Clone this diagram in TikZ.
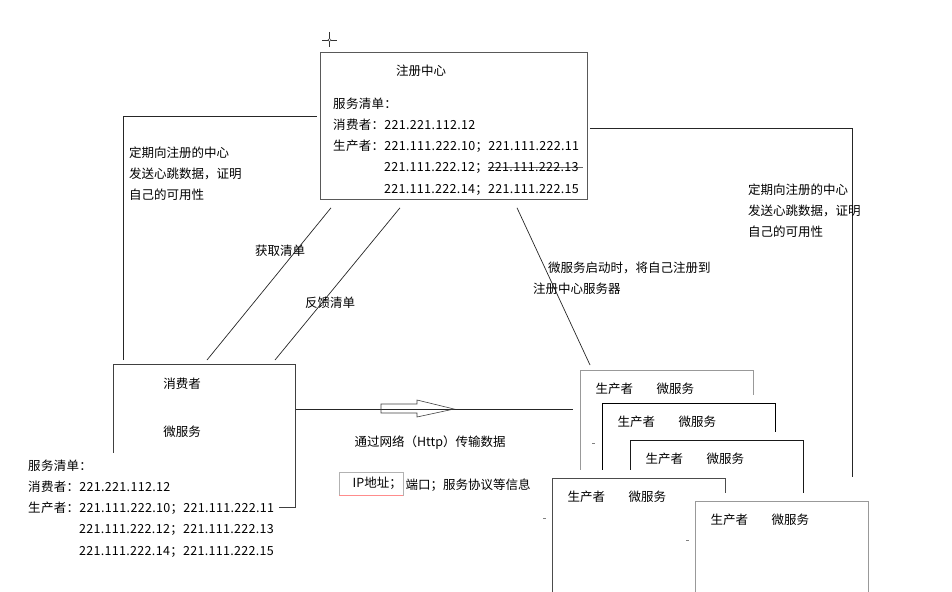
\documentclass[tikz,border=0pt]{standalone}
\usepackage{fontspec}
\setmainfont{Noto Sans CJK SC}
\newfontfamily\listfamily{Noto Sans CJK SC}[LetterSpace=2.5]
\usetikzlibrary{calc,positioning}

\newcommand{\diagfont}{\fontsize{12.5}{21.2}\selectfont}
\newcommand{\strikeip}[1]{\leavevmode\setbox0\hbox{#1}\rlap{\color{black!60}\rule[0.33em]{\dimexpr\wd0+4pt\relax}{0.7pt}}\box0}

\begin{document}
\begin{tikzpicture}[x=1pt,y=-1pt,
box/.style={draw=black!70, line width=0.8pt, inner sep=0pt, anchor=north west},
pbox/.style={box, fill=white, minimum width=173, minimum height=150,
  preaction={draw=white, line width=16pt}},
txt/.style={font=\diagfont, inner sep=0pt, align=left},
iplist/.style={txt, font=\diagfont\listfamily, anchor=north west},
link/.style={line width=0.7pt, black!85},
dashmark/.style={line width=0.6pt, black!50}
]
\useasboundingbox (0,0) rectangle (952,591);
\clip (0,0) rectangle (952,591);

% registry
\node[box, draw=black!65, minimum width=267, minimum height=147] (reg) at (320,52) {};
\node[txt] (regtitle) at (421,71) {注册中心};
\node[iplist] (reglist) at (333,97.5) {服务清单：\\消费者：221.221.112.12\\生产者：221.111.222.10；221.111.222.11\\\hphantom{生产者：}221.111.222.12；\strikeip{221.111.222.13}\\\hphantom{生产者：}221.111.222.14；221.111.222.15};

% consumer
\node[box, draw=black!75, minimum width=182, minimum height=143] (cons) at (113,364) {};
\node[txt] (constitle) at (182,384) {消费者};
\node[txt] (conssvc) at (182,432) {微服务};
\node[iplist, fill=white, inner xsep=5pt, inner ysep=6.5pt] (conslist) at (23,453) {服务清单：\\消费者：221.221.112.12\\生产者：221.111.222.10；221.111.222.11\\\hphantom{生产者：}221.111.222.12；221.111.222.13\\\hphantom{生产者：}221.111.222.14；221.111.222.15};

% producers
\node[pbox, draw=black!40] (p1) at (580,370) {};
\node[txt, anchor=west] (p1t) at ($(p1.north west)+(15.5,19)$) {生产者\hspace{23.5pt}微服务};
\node[pbox, draw=black] (p2) at (602,403) {};
\node[txt, anchor=west] (p2t) at ($(p2.north west)+(15.5,19)$) {生产者\hspace{23.5pt}微服务};
\draw[dashmark] ($(p2.north west)+(-10,40)$) -- ++(3,0);
\node[pbox, draw=black!90] (p3) at (630,440) {};
\node[txt, anchor=west] (p3t) at ($(p3.north west)+(15.5,19)$) {生产者\hspace{23.5pt}微服务};
\node[pbox, draw=black!70] (p4) at (552,478) {};
\node[txt, anchor=west] (p4t) at ($(p4.north west)+(15.5,19)$) {生产者\hspace{23.5pt}微服务};
\draw[dashmark] ($(p4.north west)+(-9,40)$) -- ++(3,0);
\node[pbox, draw=black!40] (p5) at (695,501) {};
\node[txt, anchor=west] (p5t) at ($(p5.north west)+(15.5,19)$) {生产者\hspace{23.5pt}微服务};
\draw[dashmark] ($(p5.north west)+(-9,39)$) -- ++(3,0);

% heartbeats
\coordinate (hbL) at (123,116);
\draw[link] ($(cons.north -| hbL)+(0,-4)$) -- (hbL) -- ($(reg.west |- hbL)+(-3,0)$);
\node[txt, anchor=north west] (hbLtext) at (129,146.6) {定期向注册的中心\\发送心跳数据，证明\\自己的可用性};
\coordinate (hbR) at (852,128);
\coordinate (hbRend) at (852,477);
\draw[link] ($(reg.east |- hbR)+(2,0)$) -- (hbR) -- (hbRend);
\node[txt, anchor=north west] (hbRtext) at (748,183.6) {定期向注册的中心\\发送心跳数据，证明\\自己的可用性};

% fetch / feedback
\draw[link] ($(reg.south west)+(11,8)$) -- ($(cons.north west)+(94,-4)$);
\draw[link] ($(reg.south west)+(80,8)$) -- ($(cons.north west)+(162,-4)$);
\node[txt] (fetch) at (280,251) {获取清单};
\node[txt] (feedback) at (330,303) {反馈清单};

% register
\draw[link] ($(reg.south west)+(197,8)$) -- ($(p1.north west)+(10,-5)$);
\node[txt, anchor=north west] (regnote) at (533,261.5) {\hspace*{15pt}微服务启动时，将自己注册到\\注册中心服务器};

% http call
\coordinate (netA) at ($(cons.north east)+(0,45)$);
\draw[link] (netA) -- ($(p1.west |- netA)+(-7,0)$);
\draw[line width=0.6pt, black!75] (381,404) -- (417,404) -- (417,400) -- (454,409)
  -- (417,417) -- (417,413) -- (381,413) -- cycle;
\node[txt] (nettext) at (430,443) {通过网络（Http）传输数据};
\node[txt, draw=black!30, anchor=west, minimum height=23, inner xsep=1.5pt] (ip) at (339,483.5) {\hspace*{12pt}IP地址；};
\draw[red!45, line width=0.8pt] (ip.south west) -- (ip.south east);
\node[txt, right=2pt of ip, yshift=-2pt] (ipinfo) {端口；服务协议等信息};

% cursor
\draw[black!80, line width=0.6pt] (322,40) -- (337,40) (329.5,32) -- (329.5,47);
\draw[black!80, line width=0.5pt, fill=white] (329.5,40) circle (1.6);
\end{tikzpicture}
\end{document}
